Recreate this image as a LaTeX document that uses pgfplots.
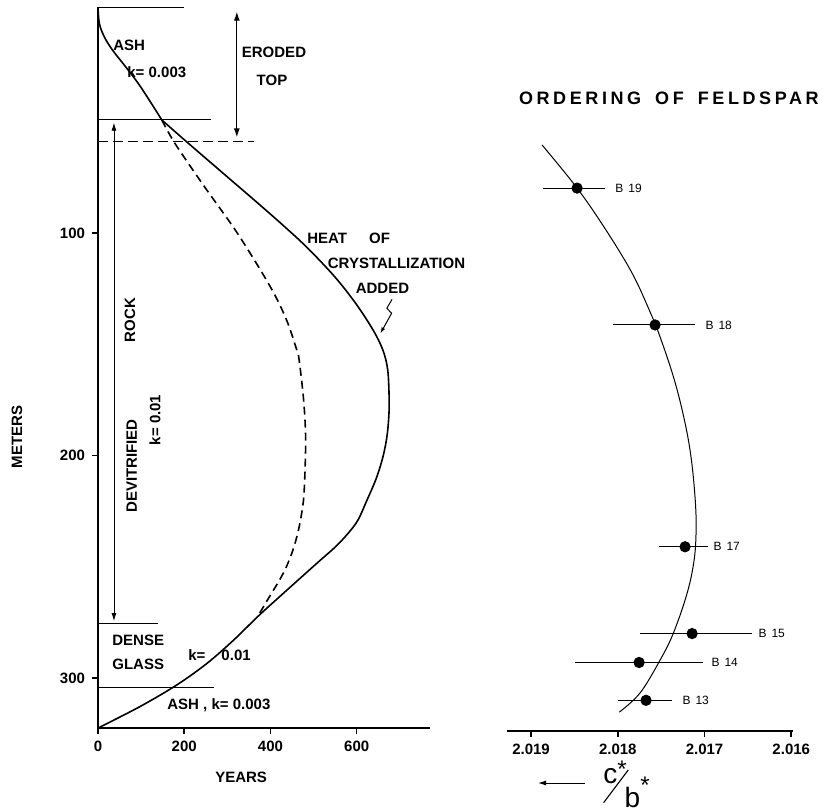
\documentclass[border=0pt]{standalone}
\usepackage{fontspec}
\setmainfont{Liberation Sans}
\newfontfamily\spaced[LetterSpace=20]{Liberation Sans}
\usepackage{pgfplots}
\pgfplotsset{compat=1.18}
\usetikzlibrary{arrows.meta}
\newcommand\lbl{\fontsize{7.5}{8}\selectfont\bfseries}
\newcommand\blbl{\fontsize{6}{6}\selectfont}

% c*/b* values are stored as (c*/b* - 2) x 1000
\pgfplotstableread{
x      y     ep    em
18.469 79.8  0.393 0.323
17.570 141.3 0.484 0.462
17.224 241.0 0.300 0.266
17.143 280.0 0.600 0.692
17.754 293.0 0.738 0.738
17.674 310.0 0.323 0.300
}\feldspar

\begin{document}
\begin{tikzpicture}[x=0.5pt,y=-0.5pt]
\useasboundingbox (0,0) rectangle (831,811);

% ---------------- left panel ----------------
\begin{axis}[
  at={(132pt,-364pt)}, anchor=south,
  scale only axis, width=166pt, height=360.4pt,
  xmin=0, xmax=770, ymin=-1.5, ymax=322.5, y dir=reverse,
  axis x line*=bottom, axis y line*=left,
  axis line style={line width=1.3pt,-},
  xtick={0,200,400,600}, ytick={100,200,300},
  tick align=outside, major tick length=3pt,
  tick style={line width=0.8pt,black},
  ticklabel style={font=\lbl},
  /pgf/number format/assume math mode=true,
  xlabel={YEARS}, ylabel={METERS},
  xlabel style={font=\lbl, at={(axis description cs:0.431,-0.068)}, anchor=center},
  ylabel style={font=\lbl, at={(axis description cs:-0.244,0.404)}, anchor=center},
  clip=false,
]
% heat of crystallization added
\addplot[line width=0.8pt, smooth, tension=0.6] coordinates {
(0,-1.5) (3.2,5.8) (14.6,11.8) (33.8,17.8) (64.2,25.3) (98.5,34.2) (148.1,49.2)};
\addplot[line width=0.8pt, smooth, tension=0.55] coordinates {
(148.1,49.2) (205.6,59) (290.6,73.2) (371.5,86.7) (433.1,97.2) (486.9,106.9)
(548.8,119.6) (597.6,131.6) (638,143.6) (660.7,152.6) (672,161.6) (675.3,175)
(674,184) (669,193) (659,202) (644,211) (624,220) (603,229) (580,235) (551,241)
(516,247) (490,251.5) (421,263.5) (370,272.5) (315,282.9) (253,293.4) (183,303.1)
(97,312.9) (0,322.5)};
% without heat of crystallization
\addplot[line width=0.8pt, smooth, tension=0.55, dash pattern=on 4pt off 2.5pt] coordinates {
(148.1,49.2) (178.4,59.7) (247,79.2) (323.3,100.1) (399.5,124.1) (437.3,139.1)
(461,152.6) (466.5,157.1) (476.9,175.1) (481.6,193) (478.3,215.5) (473.5,224.5)
(465,233.5) (453,242) (437,250) (421,256) (396,264) (370,272.5)};
% layer boundaries
\addplot[line width=0.6pt] coordinates {(0,-1.5) (199,-1.5)};
\addplot[line width=0.6pt] coordinates {(0,49) (262,49)};
\addplot[line width=0.6pt, dash pattern=on 5pt off 2.5pt] coordinates {(0,59) (361,59)};
\addplot[line width=0.6pt] coordinates {(0,275.4) (139,275.4)};
\addplot[line width=0.6pt] coordinates {(0,304.2) (268,304.2)};
% range arrows
\addplot[line width=0.6pt, {Latex[length=4.5pt,width=3pt]}-{Latex[length=4.5pt,width=3pt]}] coordinates {(322,0.5) (322,57)};
\addplot[line width=0.4pt, {Latex[length=4pt,width=2.5pt]}-{Latex[length=4pt,width=2.5pt]}] coordinates {(37,50.4) (37,274.4)};
\draw[line width=0.5pt, -{Latex[length=3pt,width=2pt]}] (axis cs:682,129.8) -- (axis cs:670,133.8) -- (axis cs:681,136.1) -- (axis cs:655,145.1);
\end{axis}

% ---------------- right panel ----------------
\begin{axis}[
  at={(325pt,-365.5pt)}, anchor=south,
  scale only axis, width=143pt, height=361.9pt,
  xmin=15.98, xmax=19.277, x dir=reverse,
  ymin=-1.5, ymax=323.8, y dir=reverse,
  axis x line*=bottom, axis y line=none, ytick=\empty,
  axis line style={line width=1.3pt,-},
  xtick={16,17,18,19}, xticklabels={2.016,2.017,2.018,2.019},
  tick align=outside, major tick length=3pt,
  tick style={line width=0.8pt,black},
  ticklabel style={font=\lbl},
  title={\spaced ORDERING\hspace{7pt}OF\hspace{7pt}FELDSPAR},
  title style={font=\fontsize{9}{10}\selectfont\bfseries, at={(axis description cs:0.566,0.858)}, anchor=center},
  xlabel={\fontsize{14}{14}\selectfont\raisebox{12pt}{c}\raisebox{15pt}{\fontsize{12}{12}\selectfont *}\kern-11.8pt\raisebox{2.5pt}{\rotatebox{-37}{\rule{0.55pt}{20.5pt}}}\kern-2pt b\raisebox{7pt}{\fontsize{12}{12}\selectfont *}},
  xlabel style={at={(axis description cs:0.418,-0.0735)}, anchor=center, inner sep=0pt},
  clip=false,
]
\addplot[line width=0.5pt, smooth, tension=0.6] coordinates {
(18.873,60.4) (18.469,79.8) (18.135,98.7) (17.835,118) (17.637,134.6)
(17.512,146.7) (17.347,166.1) (17.224,185.4) (17.151,202) (17.107,220)
(17.097,233.5) (17.120,247) (17.200,261.8) (17.359,279.8) (17.512,291.9)
(17.743,306.7) (17.982,315.3)};
\addplot[only marks, mark=*, mark size=2.6pt, black,
  error bars/.cd, x dir=both, x explicit, error mark=none,
  error bar style={line width=0.5pt}]
  table[x=x, y=y, x error plus=ep, x error minus=em] {\feldspar};
\node[anchor=west, inner sep=0, font=\blbl] at (axis cs:18.031,79.8) {B\hspace{2.5pt}19};
\node[anchor=west, inner sep=0, font=\blbl] at (axis cs:16.993,141.3) {B\hspace{2.5pt}18};
\node[anchor=west, inner sep=0, font=\blbl] at (axis cs:16.901,241) {B\hspace{2.5pt}17};
\node[anchor=west, inner sep=0, font=\blbl] at (axis cs:16.382,280) {B\hspace{2.5pt}15};
\node[anchor=west, inner sep=0, font=\blbl] at (axis cs:16.924,293) {B\hspace{2.5pt}14};
\node[anchor=west, inner sep=0, font=\blbl] at (axis cs:17.258,310) {B\hspace{2.5pt}13};
\end{axis}

% ---------------- annotations (pixel coordinates) ----------------
\draw[line width=0.5pt, {Latex[length=4pt,width=2.5pt]}-] (538,783) -- (585,783);
\node[anchor=west, font=\lbl, inner sep=0] at (113,45) {ASH};
\node[anchor=west, font=\lbl, inner sep=0] at (127,72) {k= 0.003};
\node[font=\lbl] at (274,52) {ERODED};
\node[font=\lbl] at (272,80) {TOP};
\node[anchor=west, font=\lbl, inner sep=0] at (307,238) {HEAT\hspace{11pt}OF};
\node[font=\lbl] at (396.5,263) {CRYSTALLIZATION};
\node[font=\lbl] at (382.5,288) {ADDED};
\node[rotate=90, font=\lbl] at (130,320) {ROCK};
\node[rotate=90, font=\lbl] at (131.7,466) {DEVITRIFIED};
\node[rotate=90, font=\lbl] at (155,420) {k= 0.01};
\node[anchor=west, font=\lbl, inner sep=0] at (112,640) {DENSE};
\node[anchor=west, font=\lbl, inner sep=0] at (112,664) {GLASS};
\node[anchor=west, font=\lbl, inner sep=0] at (188,655) {k=\hspace{8pt}0.01};
\node[anchor=west, font=\lbl, inner sep=0] at (167,705) {ASH , k= 0.003};
\end{tikzpicture}
\end{document}
